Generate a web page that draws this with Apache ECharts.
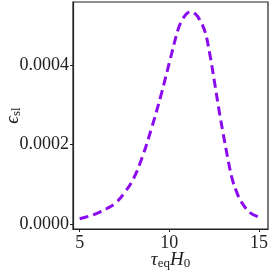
<!DOCTYPE html>
<html>
<head>
<meta charset="utf-8">
<script src="https://cdn.jsdelivr.net/npm/echarts@6/dist/echarts.min.js"></script>
<style>html,body{margin:0;padding:0;background:#fff}#c{width:272px;height:272px}</style>
</head>
<body>
<div id="c"></div>
<script>
const xValues = [5.0, 5.5, 6.0, 6.5, 7.0, 7.5, 8.0, 8.5, 9.0, 9.5, 10.0, 10.5, 10.75, 11.0, 11.2, 11.45, 11.7, 12.0, 12.25, 12.5, 12.75, 13.0, 13.25, 13.5, 13.75, 14.0, 14.5, 15.0];
const epsValues = [0.000015, 0.000021, 0.000029, 0.000040, 0.000054, 0.000080, 0.000115, 0.000170, 0.000240, 0.000318, 0.000405, 0.000490, 0.000515, 0.000529, 0.000532, 0.000527, 0.000512, 0.000481, 0.000428, 0.000362, 0.000292, 0.000228, 0.000168, 0.000115, 0.000082, 0.000058, 0.000030, 0.000019];
const xTicks = [5, 10, 15];
const yTicks = [0, 0.0002, 0.0004];

const chart = echarts.init(document.getElementById('c'), null, {renderer: 'canvas'});
const serif = '"Liberation Serif", "DejaVu Serif", serif';
chart.setOption({
  animation: false,
  grid: {left: 73, top: 2, right: 4, bottom: 43, show: true, borderColor: '#222', borderWidth: 1.2, containLabel: false, outerBoundsMode: 'none'},
  xAxis: {
    type: 'value', min: 4.63, max: 15.5,
    splitLine: {show: false},
    axisLine: {show: true, onZero: false, lineStyle: {color: '#222', width: 1.2}},
    axisTick: {show: true, length: 3, customValues: xTicks, lineStyle: {color: '#222'}},
    axisLabel: {customValues: xTicks, fontFamily: serif, fontSize: 18, color: '#222', margin: 5},
    name: '{i|τ}{s|eq}{i|H}{s|0}', nameLocation: 'middle', nameGap: 20, nameMoveOverlap: false,
    nameTextStyle: {rich: {
      i: {fontFamily: serif, fontStyle: 'italic', fontSize: 19, color: '#222'},
      s: {fontFamily: serif, fontSize: 13, color: '#222', verticalAlign: 'bottom', padding: [8, 0, 0, 0]}
    }}
  },
  yAxis: {
    type: 'value', min: -0.0000108, max: 0.000557,
    splitLine: {show: false},
    axisLine: {show: true, onZero: false, lineStyle: {color: '#222', width: 1.2}},
    axisTick: {show: true, length: 3, customValues: yTicks, lineStyle: {color: '#222'}},
    axisLabel: {customValues: yTicks, fontFamily: serif, fontSize: 18, color: '#222', margin: 4,
      formatter: v => Number(v).toFixed(4)},
    name: '{i|ϵ}{s|sl}', nameLocation: 'middle', nameGap: 50, nameRotate: 90, nameMoveOverlap: false,
    nameTextStyle: {rich: {
      i: {fontFamily: serif, fontStyle: 'italic', fontSize: 19, color: '#222'},
      s: {fontFamily: serif, fontSize: 13, color: '#222', verticalAlign: 'bottom', padding: [8, 0, 0, 0]}
    }}
  },
  series: [{
    type: 'line',
    data: xValues.map((x, i) => [x, epsValues[i]]),
    showSymbol: false,
    smooth: 0.4,
    lineStyle: {color: '#8B0BEF', width: 3, type: [9, 5]}
  }]
});
</script>
</body>
</html>
